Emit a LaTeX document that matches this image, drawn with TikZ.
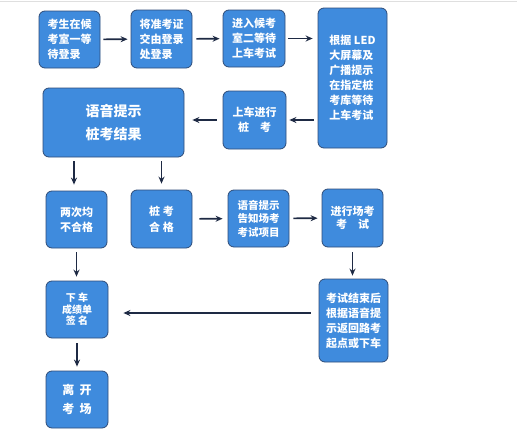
\documentclass[tikz,border=0pt]{standalone}
\usepackage{fontspec}
\newfontfamily\cjk{Noto Sans CJK SC}
\usetikzlibrary{arrows.meta}
\definecolor{boxblue}{HTML}{3F8BDD}
\definecolor{boxedge}{HTML}{2E4C78}
\definecolor{arrownavy}{HTML}{1E2A44}
\tikzset{
  stepbox/.style = {draw = boxedge, line width = 0.8pt, fill = boxblue, rounded corners = 6pt,
    text = white, font = \cjk\bfseries\fontsize{11}{15}\selectfont, inner sep = 0pt},
  flow/.style = {arrownavy, line width = 1.6pt, -{Stealth[length = 7pt, width = 6pt]}}
}

\begin{document}
\begin{tikzpicture}[x = 1pt, y = -1pt]

			\useasboundingbox[fill = white] (0, 0) rectangle (517, 439);
			\draw[gray!25, line width = 1.2pt] (0, 1.5) -- (517, 1.5); % top rule

			% first row
			\node[stepbox, minimum width = 61pt, minimum height = 57pt, align = left] (wait) at (69.5, 39.5) {考生在候\\考室一等\\待登录};
			\node[stepbox, minimum width = 61pt, minimum height = 58pt, align = left] (card) at (161.5, 39) {将准考证\\交由登录\\处登录};
			\node[stepbox, minimum width = 62pt, minimum height = 57pt, align = left] (room) at (254, 38.5) {进入候考\\室二等待\\上车考试};
			\node[stepbox, minimum width = 69pt, minimum height = 140pt, align = left] (led) at (352.5, 78) {根据 LED\\大屏幕及\\广播提示\\在指定桩\\考库等待\\上车考试};

			% second row
			\node[stepbox, minimum width = 63pt, minimum height = 58pt, align = center] (pile) at (254.5, 120) {上车进行\\桩\quad 考};
			\node[stepbox, minimum width = 141pt, minimum height = 69pt, align = center,
			  font = \cjk\bfseries\fontsize{14}{23}\selectfont] (result) at (113.5, 122.5) {语音提示\\桩考结果};

			% third row
			\node[stepbox, minimum width = 61pt, minimum height = 57pt, align = center] (fail) at (76.5, 219.5) {两次均\\不合格};
			\node[stepbox, minimum width = 61pt, minimum height = 58pt, align = center,
			  font = \cjk\bfseries\fontsize{11}{16}\selectfont] (pass) at (161.5, 219) {桩\ 考\\合\ 格};
			\node[stepbox, minimum width = 61pt, minimum height = 57pt, align = left,
			  font = \cjk\bfseries\fontsize{10.5}{13.5}\selectfont] (items) at (258.5, 218.5) {语音提示\\告知场考\\考试项目};
			\node[stepbox, minimum width = 61pt, minimum height = 58pt, align = center,
			  font = \cjk\bfseries\fontsize{11}{13.5}\selectfont] (road) at (352.5, 218) {进行场考\\考\quad 试};

			% last rows
			\node[stepbox, minimum width = 69pt, minimum height = 83pt, align = left] (back) at (353.5, 320.5) {考试结束后\\根据语音提\\示返回路考\\起点或下车};
			\node[stepbox, minimum width = 62pt, minimum height = 57pt, align = center,
			  font = \cjk\bfseries\fontsize{10}{11.5}\selectfont] (sign) at (77, 309.5) {下\ 车\\成绩单\\签\ 名};
			\node[stepbox, minimum width = 62pt, minimum height = 57pt, align = center,
			  font = \cjk\bfseries\fontsize{12}{19}\selectfont] (leave) at (77, 399.5) {离\ \ 开\\考\ \ 场};

			\draw[flow, shorten < = 3pt, shorten > = 3pt] (wait) -- (card);
			\draw[flow, shorten < = 4pt, shorten > = 3pt] (card) -- (room);
			\draw[flow, shorten < = 3pt, shorten > = 5pt] (room.east) -- (room.east -| led.west);
			\draw[flow, shorten < = 4pt, shorten > = 3pt] (led.west |- pile) -- (pile);
			\draw[flow, shorten < = 6pt, shorten > = 8pt] (pile.west) -- (pile.west -| result.east);
			\draw[flow, shorten < = 4pt, shorten > = 6pt] (result.south -| fail.north) ++(-2.5, 0) coordinate (r1) (r1) -- (r1 |- fail.north);
			\draw[flow, shorten < = 4pt, shorten > = 6pt] (result.south -| pass) -- (pass);
			\draw[flow, shorten < = 7pt, shorten > = 5pt] (pass) -- (items);
			\draw[flow, shorten < = 4pt, shorten > = 4pt] (items) -- (road);
			\draw[flow, shorten < = 5pt, shorten > = 3pt] (road) -- (road |- back.north);
			\draw[flow, shorten < = 8pt, shorten > = 15pt] (back.west |- 0, 313) coordinate (b1) -- (b1 -| sign.east);
			\draw[flow, shorten < = 4pt, shorten > = 4pt] (fail) -- (fail |- sign.north);
			\draw[flow, shorten < = 5pt, shorten > = 4pt] (sign) -- (leave);
		\end{tikzpicture}
\end{document}
